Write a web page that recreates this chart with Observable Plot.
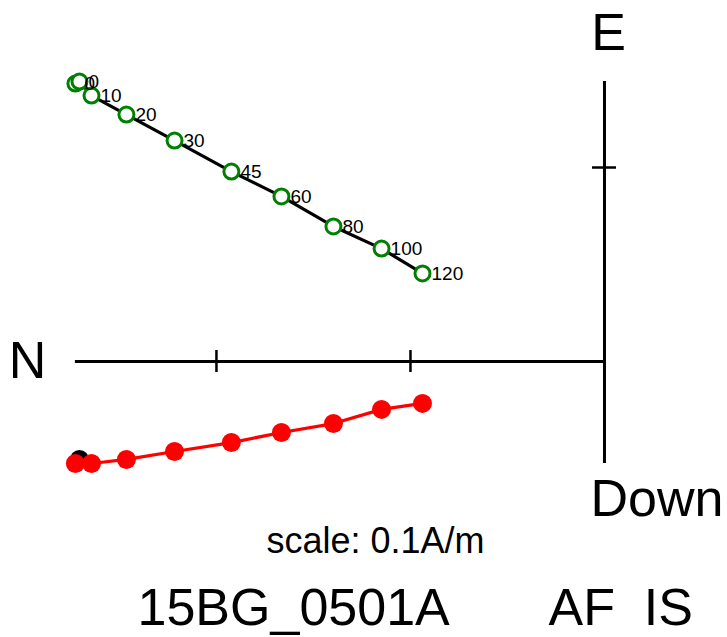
<!DOCTYPE html>
<html>
<head>
<meta charset="utf-8">
<script src="https://cdn.jsdelivr.net/npm/d3@7"></script>
<script src="https://cdn.jsdelivr.net/npm/@observablehq/plot@0.6"></script>
<style>
  html, body { margin: 0; padding: 0; background: #fff; }
  svg { display: block; font-family: "Liberation Sans", Arial, Helvetica, sans-serif; }
</style>
</head>
<body>
<div id="chart"></div>
<script>
// AF demagnetization steps (mT)
const steps = ["0", "0", "10", "20", "30", "45", "60", "80", "100", "120"];
// Components (A/m)
const north = [0.2727, 0.2706, 0.2644, 0.2464, 0.2216, 0.1923, 0.1665, 0.1397, 0.1149, 0.0938];
const east  = [0.1433, 0.1443, 0.1371, 0.1273, 0.1139, 0.0979, 0.0851, 0.0696, 0.0582, 0.0454];
const down  = [0.0526, 0.0505, 0.0526, 0.0505, 0.0464, 0.0418, 0.0366, 0.0320, 0.0247, 0.0216];
// Axis tick values (A/m)
const northTicks = [0.1, 0.2];
const eastTicks = [0.1];
const axisLabels = ["N", "E", "Down"];
const scaleLabel = "scale: 0.1A/m";
const sampleName = "15BG_0501A";
const treatment = "AF\u00a0\u00a0IS";

const pts = steps.map((s, i) => ({step: s, N: north[i], E: east[i], D: down[i], i}));
const maxN = d3.max(north), maxE = d3.max(east), maxD = d3.max(down);

const font = "Liberation Sans, Arial, Helvetica, sans-serif";

const chart = Plot.plot({
  width: 727,
  height: 637,
  margin: 0,
  x: {domain: [-0.3113, 0.0634], range: [0, 727], axis: null},
  y: {domain: [-0.1423, 0.1861], range: [637, 0], axis: null},
  style: {fontFamily: font, background: "white"},
  marks: [
    // axes
    Plot.ruleY([0], {x1: -maxN, x2: 0, stroke: "black", strokeWidth: 3}),
    Plot.ruleX([0], {y1: -maxD, y2: maxE, stroke: "black", strokeWidth: 3}),
    Plot.ruleX(northTicks, {x: d => -d, y1: 0, y2: 0, insetTop: -11, insetBottom: -11, stroke: "black", strokeWidth: 2.5}),
    Plot.ruleY(eastTicks, {y: d => d, x1: 0, x2: 0, insetLeft: -12, insetRight: -12, stroke: "black", strokeWidth: 2.5}),
    // axis labels
    Plot.text([axisLabels[0]], {x: -maxN, y: 0, text: d => d, textAnchor: "end", dx: -29, dy: 0, fontSize: 52, fill: "black"}),
    Plot.text([axisLabels[1]], {x: 0, y: maxE, text: d => d, textAnchor: "middle", dx: 4, dy: -48, fontSize: 52, fill: "black"}),
    Plot.text([axisLabels[2]], {x: 0, y: -maxD, text: d => d, textAnchor: "start", dx: -14, dy: 36, fontSize: 52, fill: "black"}),
    // horizontal projection (N vs E)
    Plot.line(pts, {x: d => -d.N, y: d => d.E, stroke: "black", strokeWidth: 3.2}),
    Plot.dot(pts, {x: d => -d.N, y: d => d.E, r: 7.5, stroke: "green", strokeWidth: 3, fill: "white"}),
    Plot.text(pts, {x: d => -d.N, y: d => d.E, text: "step", textAnchor: "start", dx: 9, fontSize: 19, fill: "black"}),
    // vertical projection (N vs Down)
    Plot.line(pts, {x: d => -d.N, y: d => -d.D, stroke: "red", strokeWidth: 3.2}),
    Plot.dot(pts.filter(d => d.i === 1), {x: d => -d.N, y: d => -d.D, r: 9.5, fill: "black", stroke: "none"}),
    Plot.dot(pts.filter(d => d.i !== 1), {x: d => -d.N, y: d => -d.D, r: 9.5, fill: "red", stroke: "none"}),
    // captions
    Plot.text([scaleLabel], {frameAnchor: "top-left", lineAnchor: "middle", dx: 375, dy: 541, text: d => d, textAnchor: "middle", fontSize: 36, fill: "black"}),
    Plot.text([sampleName], {frameAnchor: "top-left", lineAnchor: "middle", dx: 137, dy: 608, text: d => d, textAnchor: "start", fontSize: 52, fill: "black"}),
    Plot.text([treatment], {frameAnchor: "top-left", lineAnchor: "middle", dx: 548, dy: 608, text: d => d, textAnchor: "start", fontSize: 52, fill: "black"})
  ]
});
document.getElementById("chart").appendChild(chart);
</script>
</body>
</html>
